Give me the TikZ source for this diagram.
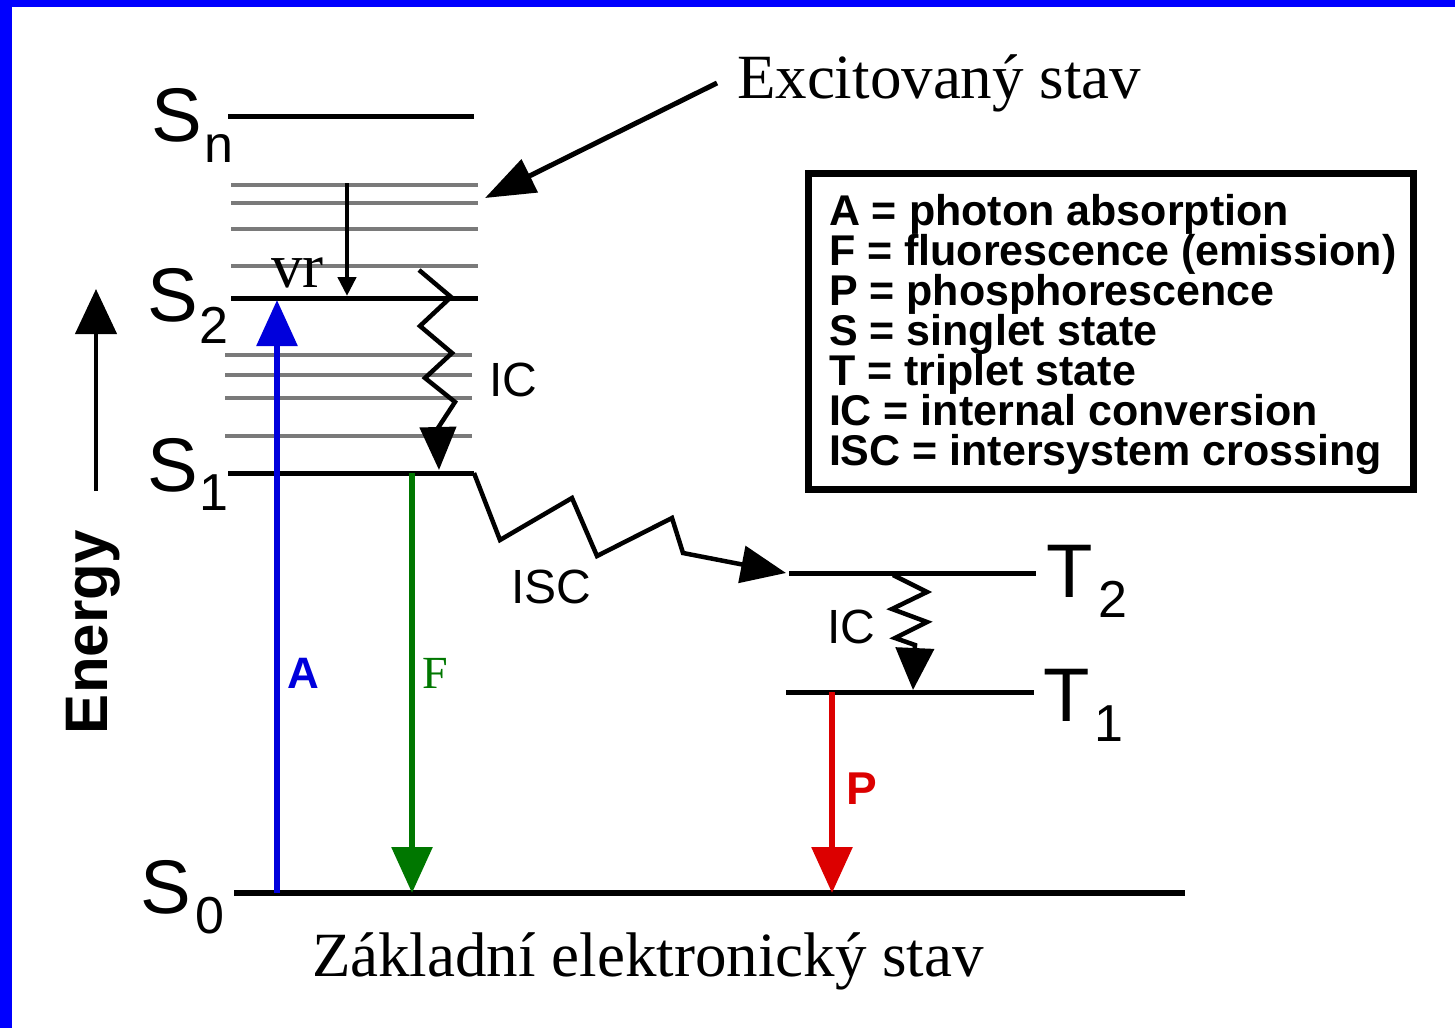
\documentclass[tikz,border=0pt]{standalone}
\usepackage{fontspec}
\setmainfont{Liberation Serif}
\newfontfamily\arialf{Liberation Sans}
\usetikzlibrary{arrows.meta}
\definecolor{bordblue}{RGB}{0,0,255}
\definecolor{absblue}{RGB}{0,0,220}
\definecolor{flgreen}{RGB}{0,119,0}
\definecolor{phred}{RGB}{220,0,0}
\definecolor{vibgray}{RGB}{122,122,122}
\begin{document}
\begin{tikzpicture}[x=1pt,y=-1pt,
  level/.style={line width=5pt,black},
  vib/.style={line width=4pt,vibgray},
  lab/.style={anchor=base west,inner sep=0pt,outer sep=0pt},
  bigS/.style={lab,font=\arialf\fontsize{76}{76}\selectfont},
  subS/.style={lab,font=\arialf\fontsize{52}{52}\selectfont},
  procl/.style={lab,font=\arialf\fontsize{48}{48}\selectfont},
  serifl/.style={lab,font=\fontsize{63}{63}\selectfont},
  legtext/.style={lab,font=\arialf\bfseries\fontsize{43}{43}\selectfont},
  radarrow/.style={line width=6pt,-{Triangle[length=46pt,width=40pt]}},
  zig/.style={line width=4.5pt,miter limit=3,-{Triangle[length=43pt,width=36pt]}}
]
\useasboundingbox (0,0) rectangle (1455,1028);
% border
\fill[bordblue] (0,0) rectangle (1455,7);
\fill[bordblue] (0,0) rectangle (12,1028);

% vibrational levels
\foreach \yy [count=\i] in {185,203,229,266} {
  \coordinate (ua\i) at (231,\yy); \coordinate (ub\i) at (478,\yy);
  \draw[vib] (ua\i) -- (ub\i);
}
\foreach \yy [count=\i] in {355,375,398,436} {
  \coordinate (la\i) at (225,\yy); \coordinate (lb\i) at (472,\yy);
  \draw[vib] (la\i) -- (lb\i);
}

% electronic levels
\coordinate (snl) at (228,116); \coordinate (snr) at (474,116);
\coordinate (s2l) at (231,298); \coordinate (s2r) at (478,298);
\coordinate (s1l) at (228,473); \coordinate (s1r) at (474,473);
\coordinate (s0l) at (234,893); \coordinate (s0r) at (1185,893);
\coordinate (t2l) at (789,573); \coordinate (t2r) at (1036,573);
\coordinate (t1l) at (786,692); \coordinate (t1r) at (1034,692);
\draw[level] (snl) -- (snr);
\draw[level] (s2l) -- (s2r);
\draw[level] (s1l) -- (s1r);
\draw[level,line width=5.5pt] (s0l) -- (s0r);
\draw[level] (t2l) -- (t2r);
\draw[level] (t1l) -- (t1r);

% level labels
\node[bigS] (Sn) at (151,141) {S};
\node[subS] (Snsub) at (204,162) {n};
\node[bigS] (S2) at (147,321) {S};
\node[subS] (S2sub) at (199,343) {2};
\node[bigS] (S1) at (147,491) {S};
\node[subS] (S1sub) at (199,510) {1};
\node[bigS] (S0) at (140,913) {S};
\node[subS] (S0sub) at (195,933) {0};
\node[bigS] (T2) at (1046,597) {T};
\node[subS] (T2sub) at (1098,617) {2};
\node[bigS] (T1) at (1043,721) {T};
\node[subS] (T1sub) at (1094,741) {1};

% energy axis
\coordinate (eb) at (96,491); \coordinate (et) at (96,289);
\draw[line width=4.5pt,-{Triangle[length=45pt,width=41pt]}] (eb) -- (et);
\node[lab,rotate=90,font=\arialf\bfseries\fontsize{60}{60}\selectfont] (energy) at (107,734) {Energy};

% radiative transitions
\coordinate (aS) at (277,893); \coordinate (aE) at (277,300);
\draw[radarrow,absblue] (aS) -- (aE);
\node[lab,text=absblue,font=\arialf\bfseries\fontsize{44}{44}\selectfont] (Alab) at (287,688) {A};
\coordinate (fS) at (412,473); \coordinate (fE) at (412,893);
\draw[radarrow,flgreen] (fS) -- (fE);
\node[lab,text=flgreen,font=\fontsize{46}{46}\selectfont] (Flab) at (422,688) {F};
\coordinate (pS) at (832,692); \coordinate (pE) at (832,893);
\draw[radarrow,phred] (pS) -- (pE);
\node[lab,text=phred,font=\arialf\bfseries\fontsize{46}{46}\selectfont] (Plab) at (846,804) {P};

% vibrational relaxation
\coordinate (vrS) at (347,183); \coordinate (vrE) at (347,296);
\draw[line width=4.5pt,-{Triangle[length=19pt,width=18pt]}] (vrS) -- (vrE);
\node[serifl] (vr) at (271,287) {vr};

% IC S2 -> S1
\coordinate (ic0) at (419,270);
\coordinate (icE) at (439,470);
\draw[zig] (ic0) -- (451,297) -- (420,326) -- (452,353) -- (425,378) -- (455,402) -- (438,428) -- (icE);
\node[procl] (IC1) at (489,396) {IC};

% ISC S1 -> T2
\coordinate (iscE) at (786,573);
\draw[zig,-{Triangle[length=45pt,width=37pt]}] (s1r) -- (500,540) -- (572,498) -- (597,556) -- (672,518) -- (683,553) -- (iscE);
\node[procl] (ISC) at (511,603) {ISC};

% IC T2 -> T1
\coordinate (ict0) at (893,575);
\coordinate (ictE) at (913,690);
\draw[zig,-{Triangle[length=42pt,width=38pt]}] (ict0) -- (927,592) -- (892,609) -- (927,622) -- (895,638) -- (915,645) -- (ictE);
\node[procl] (IC2) at (827,643) {IC};

% excited state label
\node[serifl] (exc) at (737,98) {Excitovaný stav};
\coordinate (excS) at (717,83); \coordinate (excE) at (485,198);
\draw[line width=5pt,-{Triangle[length=50pt,width=36pt]}] (excS) -- (excE);

% ground state label
\node[serifl] (gnd) at (312,976) {Základní elektronický stav};

% legend
\draw[line width=7pt] (808.5,173.5) rectangle (1413.5,489.5);
\foreach \t [count=\i] in {{A = photon absorption},{F = fluorescence (emission)},{P = phosphorescence},{S = singlet state},{T = triplet state},{IC = internal conversion},{ISC = intersystem crossing}} {
  \node[legtext] (leg\i) at (829,185+40*\i) {\t};
}
\end{tikzpicture}
\end{document}
